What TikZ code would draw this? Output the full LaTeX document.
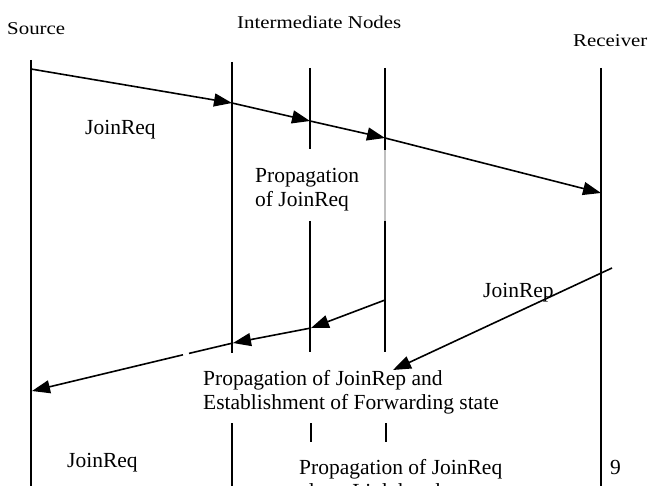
\documentclass[tikz,border=0pt]{standalone}
\usepackage{fontspec}
\setmainfont{Liberation Serif}
\usetikzlibrary{arrows.meta}

\begin{document}
\begin{tikzpicture}[x=1pt,y=-1pt,
  life/.style={line width=1.6pt},
  faint/.style={line width=1.6pt,draw=black!25},
  msg/.style={line width=1.6pt,-{Triangle[length=18pt,width=13pt]}},
  plain/.style={line width=1.6pt},
  lbl/.style={anchor=base west,inner sep=0pt,font=\fontsize{21.5}{24}\selectfont},
  hdr/.style={anchor=base west,inner sep=0pt,font=\fontsize{18}{20}\selectfont,xscale=1.16,transform shape}]
  \useasboundingbox (0,0) rectangle (650,486);
  \clip (0,0) rectangle (650,486);

  % headers
  \node[hdr] (hsrc) at (7,35) {Source};
  \node[hdr] (hint) at (237,29) {Intermediate Nodes};
  \node[hdr] (hrcv) at (573,47) {Receiver};

  % lifelines: source, three intermediate nodes, receiver
  \coordinate (s0) at (31,60);   \coordinate (s1) at (31,486);
  \coordinate (a0) at (232,62);  \coordinate (a1) at (232,353);
  \coordinate (a2) at (232,423); \coordinate (a3) at (232,486);
  \coordinate (b0) at (310,68);  \coordinate (b1) at (310,149);
  \coordinate (b2) at (310,221); \coordinate (b3) at (310,352);
  \coordinate (b4) at (311,423); \coordinate (b5) at (311,442);
  \coordinate (c0) at (385,68);  \coordinate (c1) at (385,150);
  \coordinate (c2) at (385,221); \coordinate (c3) at (385,352);
  \coordinate (c4) at (386,423); \coordinate (c5) at (386,442);
  \coordinate (r0) at (601,68);  \coordinate (r1) at (601,486);

  \draw[life] (s0) -- (s1);
  \draw[life] (a0) -- (a1);
  \draw[life] (a2) -- (a3);
  \draw[life] (b0) -- (b1);
  \draw[life] (b2) -- (b3);
  \draw[life] (b4) -- (b5);
  \draw[life] (c0) -- (c1);
  \draw[faint] (c1) -- (c2);
  \draw[life] (c2) -- (c3);
  \draw[life] (c4) -- (c5);
  \draw[life] (r0) -- (r1);

  % JoinReq travelling towards the receiver
  \coordinate (q0) at (31,69);
  \coordinate (q1) at (232,103);
  \coordinate (q2) at (310,121);
  \coordinate (q3) at (385,138);
  \coordinate (q4) at (601,193);
  \draw[msg] (q0) -- (q1);
  \draw[msg] (q1) -- (q2);
  \draw[msg] (q2) -- (q3);
  \draw[msg] (q3) -- (q4);

  % JoinRep travelling back to the source
  \coordinate (p0) at (612,268);
  \coordinate (p1) at (393,370);
  \draw[msg] (p0) -- (p1);
  \coordinate (m0) at (385,300);
  \coordinate (m1) at (311,328);
  \coordinate (m2) at (233,343);
  \coordinate (m3) at (189,353.4);
  \coordinate (m4) at (183,354.8);
  \coordinate (m5) at (32,391);
  \draw[msg] (m0) -- (m1);
  \draw[msg] (m1) -- (m2);
  \draw[plain] (m2) -- (m3);
  \draw[msg] (m4) -- (m5);

  % labels
  \node[lbl] (t1) at (85,135) {JoinReq};
  \node[lbl] (t2) at (255,183) {Propagation};
  \node[lbl] (t3) at (255,207) {of JoinReq};
  \node[lbl] (t4) at (483,297) {JoinRep};
  \node[lbl] (t5) at (203,385) {Propagation of JoinRep and};
  \node[lbl] (t6) at (203,409) {Establishment of Forwarding state};
  \node[lbl] (t7) at (67,467) {JoinReq};
  \node[lbl] (t8) at (299,474) {Propagation of JoinReq};
  \node[lbl] (t9) at (299,498) {along Link break};
  \node[lbl] (t10) at (610,474) {9};
\end{tikzpicture}
\end{document}
